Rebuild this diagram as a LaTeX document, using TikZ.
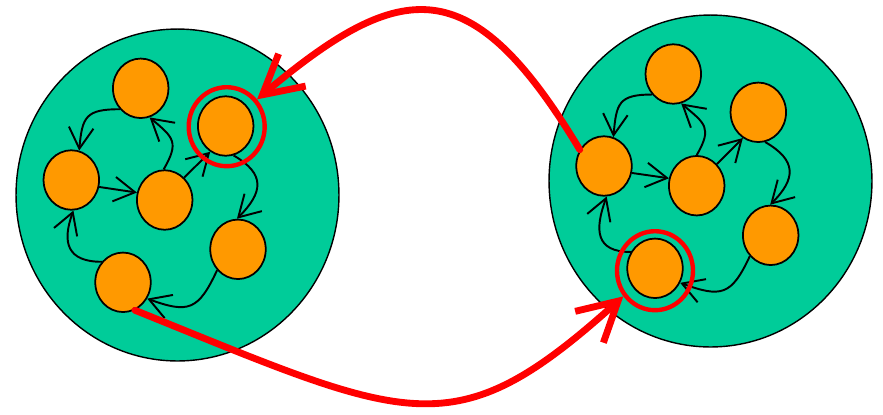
\documentclass[tikz,border=0pt]{standalone}
\usetikzlibrary{arrows.meta,shapes.geometric}
\definecolor{GroupGreen}{RGB}{0,204,153}
\definecolor{PeerOrange}{RGB}{255,153,0}
\tikzset{
  group/.style={ellipse,draw=black,fill=GroupGreen,line width=0.8pt,
    minimum width=6.46cm,minimum height=6.64cm,inner sep=0pt},
  peer/.style={ellipse,draw=black,fill=PeerOrange,line width=1pt,
    minimum width=1.11cm,minimum height=1.19cm,inner sep=0pt},
  ring/.style={ellipse,draw=red,line width=2.5pt,
    minimum width=1.52cm,minimum height=1.58cm,inner sep=0pt},
  link/.style={-{Straight Barb[length=12pt,width=14pt]},line width=1.1pt,
    looseness=1.5},
  jump/.style={-{Straight Barb[length=22pt,width=24pt]},red,
    line width=3.9pt,line cap=round}
}

\begin{document}
\begin{tikzpicture}[x=0.02cm,y=0.02cm]
      \useasboundingbox (0,0) rectangle (883,-414);
      % left group
      \node[group] (Lgroup) at (177.5,-195) {};
      \node[peer] (Ltop) at (140.7,-88.3) {};
      \node[peer] (Lup) at (225.7,-126) {};
      \node[peer] (Lleft) at (71.3,-180) {};
      \node[peer] (Lmid) at (164.7,-200) {};
      \node[peer] (Llow) at (238,-249.3) {};
      \node[peer] (Lbot) at (123,-282.3) {};
      % right group
      \node[group] (Rgroup) at (710.5,-181) {};
      \node[peer] (Rtop) at (673.3,-74) {};
      \node[peer] (Rup) at (758.3,-112.3) {};
      \node[peer] (Rleft) at (604,-166) {};
      \node[peer] (Rmid) at (696.7,-185.7) {};
      \node[peer] (Rlow) at (770.7,-235.3) {};
      \node[peer] (Rbot) at (655,-268.3) {};

      \draw[link] (Ltop.225) to[out=180,in=85] (Lleft.75);
      \draw[link] (Lmid.92) to[out=60,in=-40] (Ltop.287);
      \draw[link] (Lleft.-14) -- (Lmid.165);
      \draw[link] (Lmid.49) -- (Lup.239);
      \draw[link] (Lup.285) to[out=-30,in=45] (Llow.92);
      \draw[link] (Llow.225) to[out=-115,in=-20] (Lbot.326);
      \draw[link] (Lbot.136) to[out=180,in=-110] (Lleft.274);

      \draw[link] (Rtop.224) to[out=180,in=85] (Rleft.72);
      \draw[link] (Rmid.90) to[out=60,in=-40] (Rtop.285);
      \draw[link] (Rleft.-14) -- (Rmid.165);
      \draw[link] (Rmid.47) -- (Rup.239);
      \draw[link] (Rup.283) to[out=-30,in=45] (Rlow.91);
      \draw[link] (Rlow.225) to[out=-115,in=-20] (Rbot.330);
      \draw[link] (Rbot.146) to[out=180,in=-110] (Rleft.275);

      % moved peers
      \node[ring] (Lring) at (226.7,-126.7) {};
      \node[ring] (Rring) at (655,-270.7) {};
      \draw[jump] (Rleft.146) to[out=121,in=40,out looseness=1.65,
        in looseness=1.48] (Lring.42);
      \draw[jump] (Lbot.293) to[out=-22,in=222,out looseness=1.56,
        in looseness=1.2] (Rring.219);
    \end{tikzpicture}
\end{document}
